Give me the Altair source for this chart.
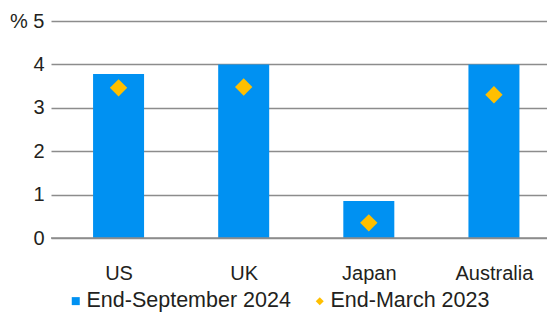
import altair as alt
import pandas as pd

categories = ["US", "UK", "Japan", "Australia"]
sept_2024 = [3.78, 4.0, 0.85, 4.0]
march_2023 = [3.46, 3.48, 0.35, 3.3]
series_names = ["End-September 2024", "End-March 2023"]
colors = ["#0091F2", "#FFBF00"]
shapes = ["square", "diamond"]

rows = []
for i, (c, v) in enumerate(zip(categories, sept_2024)):
    rows.append({"idx": i, "country": c, "series": series_names[0], "value": v})
for i, (c, v) in enumerate(zip(categories, march_2023)):
    rows.append({"idx": i, "country": c, "series": series_names[1], "value": v})
df = pd.DataFrame(rows)

FONT = "Liberation Sans"
TXT = "#231f20"
W = 496
STEP = 127.7

leg = alt.Legend(
    title=None,
    orient="none",
    legendX=14,
    legendY=269,
    direction="horizontal",
    columns=2,
    labelFont=FONT,
    labelFontSize=21.5,
    labelColor=TXT,
    symbolSize=64,
    symbolStrokeWidth=0,
    columnPadding=18,
    labelOffset=0,
    labelLimit=400,
)

color_enc = alt.Color(
    "series:N",
    scale=alt.Scale(domain=series_names, range=colors),
    legend=leg,
)
shape_enc = alt.Shape(
    "series:N",
    scale=alt.Scale(domain=series_names, range=shapes),
    legend=leg,
)

label_array = "[" + ",".join("'" + c + "'" for c in categories) + "]"

x_enc = alt.X(
    "idx:Q",
    scale=alt.Scale(domain=[-0.5, -0.5 + W / STEP], nice=False, zero=False),
    axis=alt.Axis(
        title=None,
        values=list(range(len(categories))),
        labelExpr=label_array + "[datum.value]",
        labelAngle=0,
        labelFont=FONT,
        labelFontSize=20,
        labelColor=TXT,
        labelPadding=25,
        labelFlush=False,
        labelOverlap=False,
        ticks=False,
        domain=False,
        grid=False,
    ),
)

y_enc = alt.Y(
    "value:Q",
    scale=alt.Scale(domain=[0, 5], nice=False),
    axis=alt.Axis(
        title=None,
        values=[0, 1, 2, 3, 4, 5],
        labelExpr="datum.value == 5 ? '% 5' : datum.label",
        labelFont=FONT,
        labelFontSize=20,
        labelColor=TXT,
        labelPadding=7,
        ticks=False,
        domain=False,
        grid=True,
        gridColor="#8c8c8c",
        gridWidth=1.5,
    ),
)

bars = (
    alt.Chart(df)
    .transform_filter(alt.datum.series == series_names[0])
    .mark_bar(size=51)
    .encode(x=x_enc, y=y_enc, color=color_enc)
)

points = (
    alt.Chart(df)
    .transform_filter(alt.datum.series == series_names[1])
    .mark_point(filled=True, size=300, opacity=1)
    .encode(x=x_enc, y=y_enc, color=color_enc, shape=shape_enc)
)

baseline = alt.Chart(pd.DataFrame({"y": [0]})).mark_rule(
    color="#8c8c8c", strokeWidth=1.5
).encode(y=alt.Y("y:Q", scale=alt.Scale(domain=[0, 5], nice=False)))

chart = (
    alt.layer(bars, baseline, points)
    .properties(
        width=W,
        height=217,
        autosize=alt.AutoSizeParams(type="none"),
        padding={"left": 43, "top": 13, "right": 0, "bottom": 74},
    )
    .configure_view(stroke=None)
)

chart.save("out.html", embed_options={"renderer": "svg", "actions": False})
